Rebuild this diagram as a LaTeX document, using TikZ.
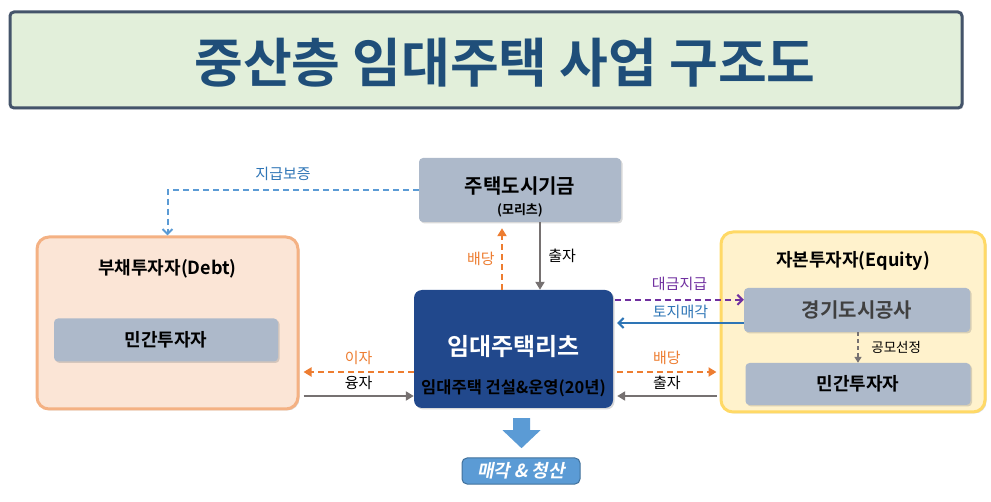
\documentclass[tikz,border=0pt]{standalone}
\usepackage{fontspec}
\setmainfont{Noto Sans CJK KR}[BoldFont={Noto Sans CJK KR Bold}]
\newfontfamily\slantfont{Noto Sans CJK KR Bold}[FakeSlant=0.2]
\usepackage{tikz}
\usetikzlibrary{arrows.meta,positioning,calc,shadows}
\definecolor{gjTitleFill} {RGB}{226,239,218}
\definecolor{gjSlate}     {RGB}{68,  84, 106}
\definecolor{gjTitleBlue} {RGB}{31,  78, 121}
\definecolor{gjGray}      {RGB}{173,185,202}
\definecolor{gjDebtFill}  {RGB}{251,229,214}
\definecolor{gjDebtLine}  {RGB}{244,177,131}
\definecolor{gjEqFill}    {RGB}{255,242,204}
\definecolor{gjEqLine}    {RGB}{255,217,102}
\definecolor{gjReits}     {RGB}{33,  72, 140}
\definecolor{gjOrange}    {RGB}{237,125, 49}
\definecolor{gjPurple}    {RGB}{112, 48,160}
\definecolor{gjBlue}      {RGB}{91, 155,213}
\definecolor{gjDeepBlue}  {RGB}{46, 117,182}
\definecolor{gjArrowGray} {RGB}{118,113,113}
\definecolor{gjSaleLine}  {RGB}{65, 113,156}
\definecolor{gjDarkText}  {RGB}{64,  64, 64}

\begin{document}
\begin{tikzpicture}[x=1pt,y=-1pt,
    shade box/.style={drop shadow={shadow xshift=1.5pt,shadow yshift=-1.5pt,opacity=0.3}},
    graybox/.style={shade box,fill=gjGray,rounded corners=4pt,inner sep=0pt},
    groupbox/.style={shade box,line width=3pt,rounded corners=12pt,inner sep=0pt},
    boxtext/.style={font=\fontsize{18}{18}\selectfont\bfseries},
    lbl/.style={font=\fontsize{15}{15}\selectfont},
    flow/.style={line width=2pt},
    dashflow/.style={flow,dash pattern=on 6pt off 4pt},
    barb/.style={-{Straight Barb[length=5pt,width=10pt]}},
    tri/.style={-{Triangle[length=8pt,width=9pt]}}]
  \useasboundingbox (0,0) rectangle (991,502);

  % 제목
  \node[shade box,fill=gjTitleFill,draw=gjSlate,line width=3pt,rounded corners=4pt,
        minimum width=952pt,minimum height=96pt] (title) at (486,60) {};
  \node[font=\fontsize{53}{53}\selectfont\bfseries,text=gjTitleBlue] (titletext)
    at (505,63) {중산층 임대주택 사업 구조도};

  % 주택도시기금
  \node[graybox,minimum width=202pt,minimum height=64pt] (fund) at (520,190) {};
  \node[font=\fontsize{20}{20}\selectfont\bfseries] (fundname) at ($(fund)+(0,-4)$) {주택도시기금};
  \node[font=\fontsize{13}{13}\selectfont\bfseries] (fundsub) at ($(fund)+(0,20)$) {(모리츠)};

  % 부채투자자
  \node[groupbox,fill=gjDebtFill,draw=gjDebtLine,
        minimum width=261pt,minimum height=172pt] (debt) at (167.5,323) {};
  \node[boxtext] (debttitle) at ($(debt.north)+(0,33)$) {부채투자자(Debt)};
  \node[graybox,boxtext,minimum width=224pt,minimum height=43pt] (debtinv) at (166,340) {민간투자자};

  % 자본투자자
  \node[groupbox,fill=gjEqFill,draw=gjEqLine,
        minimum width=264pt,minimum height=180pt] (equity) at (853,322) {};
  \node[boxtext] (eqtitle) at ($(equity.north)+(0,30)$) {자본투자자(Equity)};
  \node[graybox,font=\fontsize{20}{20}\selectfont\bfseries,text=gjDarkText,
        minimum width=226pt,minimum height=44pt] (gyeonggi) at (857,310) {경기도시공사};
  \node[graybox,boxtext,minimum width=225pt,minimum height=42pt] (eqinv) at (858,384) {민간투자자};

  % 임대주택리츠
  \node[shade box,fill=gjReits,rounded corners=8pt,
        minimum width=199pt,minimum height=118pt] (reits) at (513.5,349) {};
  \node[font=\fontsize{24}{24}\selectfont\bfseries,text=white] (reitsname)
    at ($(reits)+(0,-2)$) {임대주택리츠};
  \node[font=\fontsize{16.5}{16.5}\selectfont\bfseries] (reitsjob)
    at ($(reits)+(0,39)$) {임대주택 건설\&운영(20년)};

  % 매각 & 청산
  \coordinate (saletop) at ($(reits.south)+(8,10)$);
  \fill[gjBlue] (saletop) ++(-8.5,0) -- ++(17,0) -- ++(0,12) -- ++(10.5,0)
    -- ++(-19,18) -- ++(-19,-18) -- ++(10.5,0) -- cycle;
  \node[fill=gjBlue,draw=gjSaleLine,line width=1pt,rounded corners=5pt,
        minimum width=118pt,minimum height=26pt,inner sep=0pt,text=white,
        font=\fontsize{18}{18}\slantfont] (sale) at (521,471) {매각 \& 청산};

  % 연결선
  \draw[dashflow,barb,gjBlue] (fund.west) -| (debt.north)
    node[lbl,pos=0.27,above=5pt,text=gjDeepBlue] {지급보증};

  \coordinate (divUp) at ($(reits.north)+(-11.5,0)$);
  \draw[dashflow,tri,gjOrange] (divUp) -- ($(divUp |- fund.south)+(0,6)$)
    node[lbl,midway,left=3pt] {배당};
  \coordinate (invDown) at ($(fund.south)+(20,0)$);
  \draw[flow,tri,gjArrowGray] (invDown) -- (invDown |- reits.north)
    node[lbl,midway,right=4pt,text=black] {출자};

  \coordinate (payA) at ($(reits.north east)+(2,10)$);
  \draw[dashflow,barb,gjPurple] (payA) -- (payA -| gyeonggi.west)
    node[lbl,midway,above=5pt] {대금지급};
  \coordinate (landA) at ($(gyeonggi.west)+(0,13)$);
  \draw[flow,barb,gjDeepBlue] (landA) -- ($(landA -| reits.east)+(4,0)$)
    node[lbl,midway,above=0pt] {토지매각};

  \coordinate (divR) at ($(reits.east)+(4,23)$);
  \draw[dashflow,tri,gjOrange] (divR) -- ($(divR -| equity.west)+(-3,0)$)
    node[lbl,midway,above=2.5pt] {배당};
  \coordinate (invR) at ($(equity.west)+(-3,74)$);
  \draw[flow,tri,gjArrowGray] (invR) -- ($(invR -| reits.east)+(4,0)$)
    node[lbl,midway,above=2pt,text=black] {출자};

  \coordinate (intL) at ($(reits.west)+(0,23)$);
  \draw[dashflow,tri,gjOrange] (intL) -- ($(intL -| debt.east)+(4,0)$)
    node[lbl,midway,above=2.5pt] {이자};
  \coordinate (loanL) at ($(debt.east)+(4,73)$);
  \draw[flow,tri,gjArrowGray] (loanL) -- (loanL -| reits.west)
    node[lbl,midway,above=2pt,text=black] {융자};

  \coordinate (pick) at ($(gyeonggi.south)+(1,0)$);
  \draw[flow,dash pattern=on 4pt off 3pt,-{Triangle[length=6pt,width=7pt]},gjArrowGray]
    (pick) -- (pick |- eqinv.north)
    node[font=\fontsize{13.5}{13.5}\selectfont,midway,right=9pt,text=black] {공모선정};
\end{tikzpicture}
\end{document}
